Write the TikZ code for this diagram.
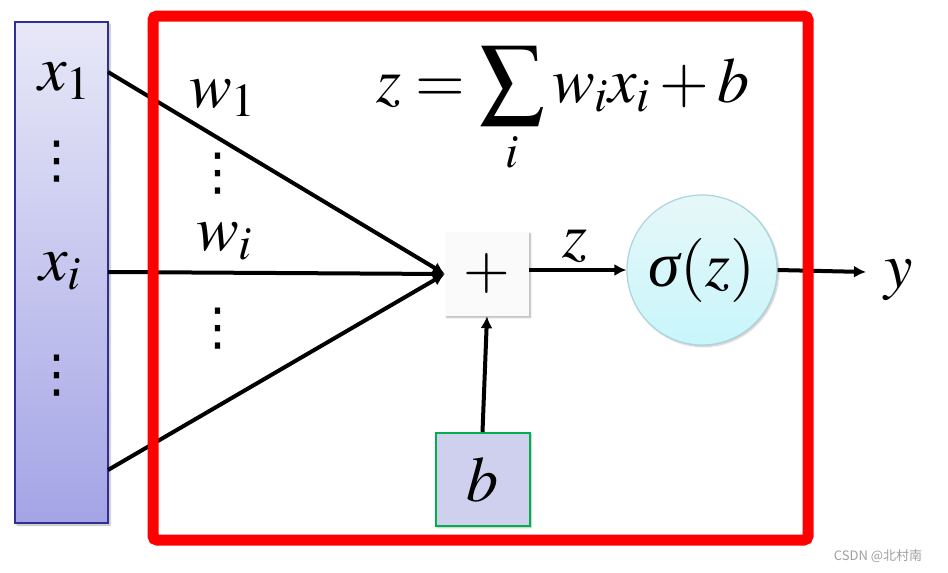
\documentclass[tikz,border=0pt]{standalone}
\usepackage{mathptmx}
\usepackage[no-math]{fontspec}
\newfontfamily\cjk{Noto Sans CJK SC}
\newfontfamily\symfont{DejaVu Sans}
\newfontfamily\grkit{Liberation Serif}
\usetikzlibrary{positioning, arrows.meta, shadows.blur}
\definecolor{colline}{HTML}{2E3192}
\definecolor{coltop}{HTML}{E8E8F8}
\definecolor{colbot}{HTML}{A4A4E6}
\definecolor{acttop}{HTML}{E6F7F9}
\definecolor{actbot}{HTML}{C8F6FB}
\definecolor{actline}{HTML}{A9D6DC}
\definecolor{biasfill}{HTML}{CED0EE}
\definecolor{biasline}{HTML}{00B050}

\begin{document}
\begin{tikzpicture}[x=1pt, y=-1pt,
  big/.style={font=\fontsize{64}{70}\selectfont, inner sep=0pt},
  vdts/.style={font=\symfont\fontsize{51}{51}\selectfont, inner sep=0pt},
  inbox/.style={rectangle, draw=colline, line width=2pt, top color=coltop,
    bottom color=colbot, minimum width=93pt, minimum height=501pt, inner sep=0pt,
    blur shadow={shadow blur steps=6, shadow xshift=2pt, shadow yshift=-2pt, shadow opacity=30}},
  sumbox/.style={rectangle, fill=gray!4, minimum size=84pt, inner sep=0pt,
    blur shadow={shadow blur steps=6, shadow xshift=1.5pt, shadow yshift=-1.5pt, shadow opacity=30}},
  actnode/.style={circle, draw=actline, line width=1.2pt, top color=acttop,
    bottom color=actbot, minimum size=150pt, inner sep=0pt,
    blur shadow={shadow blur steps=6, shadow xshift=1.5pt, shadow yshift=-1.5pt, shadow opacity=25}},
  biasbox/.style={rectangle, draw=biasline, line width=2pt, fill=biasfill,
    minimum width=94pt, minimum height=93pt, inner sep=0pt,
    blur shadow={shadow blur steps=6, shadow xshift=1.5pt, shadow yshift=-1.5pt, shadow opacity=30}},
  link/.style={-{Latex[length=12pt, width=12pt]}, line width=4pt},
  frame/.style={draw=red, line width=11pt, rounded corners=4pt}
]
  \useasboundingbox (0,0) rectangle (948,573);

  % inputs
  \node[inbox] (col) at (61.5,272.5) {};
  \node[big, anchor=base west] (x1) at (38,90) {$x_1$};
  \node[vdts] (xd1) at (57,162) {⋮};
  \node[big, anchor=base west] (xi) at (39,280) {$x_i$};
  \node[vdts] (xd2) at (57,376) {⋮};
  \coordinate (p1) at (108,72);
  \coordinate (p2) at (108,272);
  \coordinate (p3) at (108,470);

  % neuron
  \node[sumbox] (sum) at (487,274) {\fontsize{60}{60}\selectfont$+$};
  \node[actnode] (act) at (702,270) {};
  \node[big] (actlbl) at (act) {{\grkit\itshape σ}$\left(\rule{0pt}{44pt}z\right)$};
  \node[biasbox] (bias) at (482.5,479.5) {};
  \node[big] (blbl) at (bias) {$b$};
  \coordinate (out) at (866,272);
  \node[big, anchor=base west] (y) at (884,287) {$y$};

  \draw[link] (p1) -- (sum.west);
  \draw[link] (p2) -- (sum.west);
  \draw[link] (p3) -- (sum.west);
  \draw[link] (sum.east |- act) -- (act.west);
  \draw[link] (bias.north) -- (sum.south);
  \draw[link] (act.east) -- (out);

  \draw[frame] (153,16) rectangle (808,540);

  % weights
  \node[big, anchor=base west] (w1) at (189,107) {$w_1$};
  \node[vdts] (wd1) at (218,174) {⋮};
  \node[big, anchor=base west] (wi) at (196,250) {$w_i$};
  \node[vdts] (wd2) at (218,329) {⋮};
  \node[big, anchor=base west] (zlbl) at (562,257) {$z$};

  \node[big, anchor=base west] (eq) at (376,102) {$z=\displaystyle\sum_i w_i x_i+b$};

  \node[font=\cjk\fontsize{13}{13}\selectfont, text=gray!75, inner sep=0pt] (mark) at (878,556) {CSDN @北村南};
\end{tikzpicture}
\end{document}
